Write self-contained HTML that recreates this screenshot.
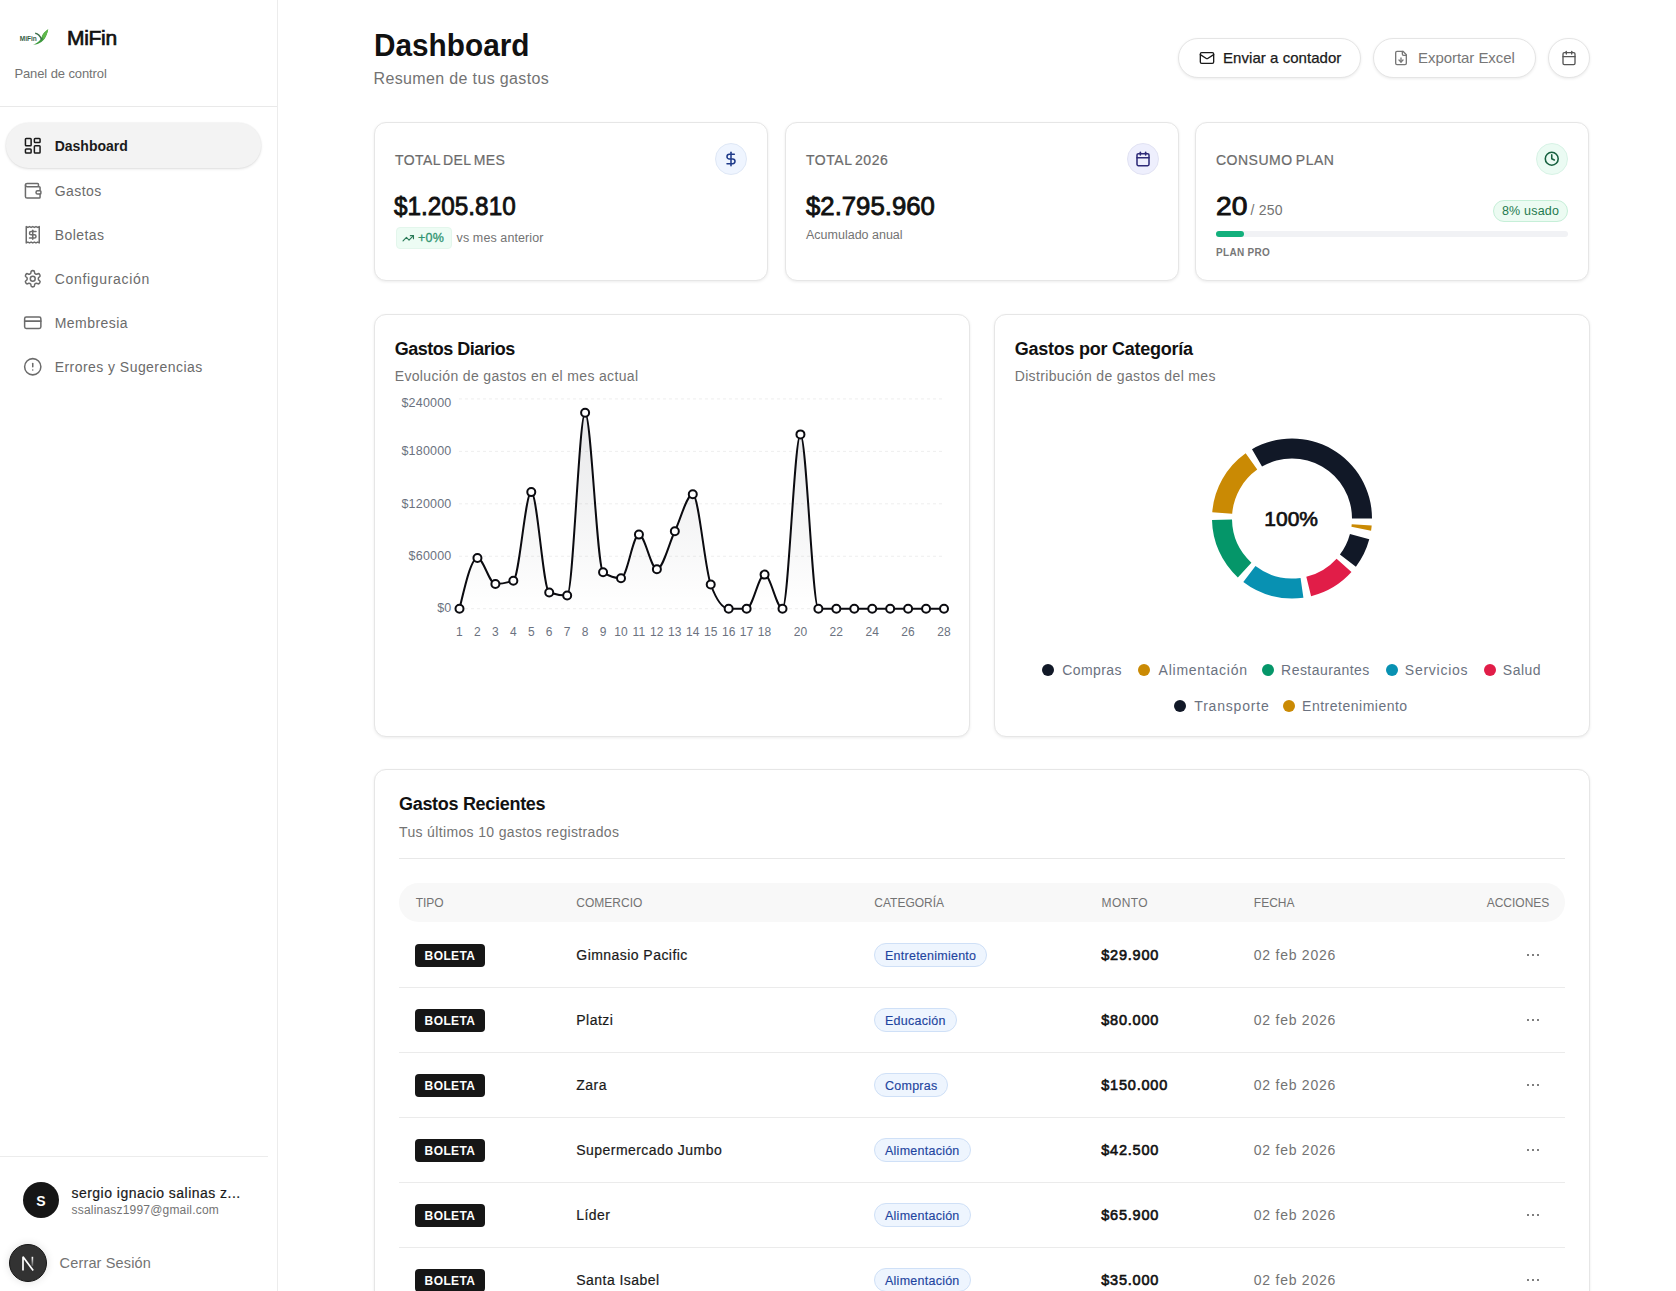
<!DOCTYPE html>
<html><head><meta charset="utf-8"><style>
html,body{margin:0;padding:0;width:1676px;height:1291px;overflow:hidden;background:#fff;position:relative;font-family:"Liberation Sans", sans-serif}
.t{position:absolute;white-space:nowrap;font-family:"Liberation Sans", sans-serif}
.pill{position:absolute;height:24px;box-sizing:border-box;border:1px solid #cfe0f7;background:#eef5fe;border-radius:12px;padding:1px 10px 0 10px;font-size:12.5px;line-height:22px;color:#1f45a0;-webkit-text-stroke:0.15px #1f45a0;letter-spacing:0.25px;white-space:nowrap;font-family:"Liberation Sans", sans-serif;font-weight:500}
</style></head><body>
<div style="position:absolute;left:277px;top:0px;width:1px;height:1291px;background:#ececec"></div>
<div style="position:absolute;left:0px;top:106px;width:277px;height:1px;background:#e9e9e9"></div>
<svg style="position:absolute;left:0px;top:0px;" width="60" height="60" viewBox="0 0 60 60" fill="none">
<path d="M33,44.6 C39,44.8 44.5,41 46.5,35 C47.5,32.5 48,30.5 48.2,29.2 C45.5,31 43,33 42,36 C41,39.5 38.5,43 33,44.6Z" fill="#3f9a3f"/>
<path d="M42,36.5 C43,33.5 45.5,31 48.2,29.2 C47.5,33 46,36.5 43.5,39.5Z" fill="#5fb84a"/>
<path d="M35.2,33.2 C38,33.6 40.2,36 41.6,39.6" stroke="#3d6e4a" stroke-width="1.4" fill="none"/>
<text x="19.8" y="40.8" font-family="Liberation Sans" font-weight="700" font-size="7.2" fill="#335c44" textLength="17" lengthAdjust="spacingAndGlyphs">MiFin</text>
</svg>
<div class="t" style="left:67.00px;top:27.22px;font-size:21px;line-height:21px;font-weight:400;color:#111;letter-spacing:-0.3px;-webkit-text-stroke:0.7px #111">MiFin</div>
<div class="t" style="left:14.40px;top:66.80px;font-size:13px;line-height:13px;font-weight:400;color:#737373;letter-spacing:-0.1px;">Panel de control</div>
<div style="position:absolute;left:6px;top:123px;width:255px;height:45px;background:#f3f3f3;border-radius:23px;box-shadow:0 1px 3px rgba(0,0,0,0.12),0 0 0 1px rgba(0,0,0,0.025)"></div>
<svg style="position:absolute;left:23px;top:136.2px" width="19.5" height="19.5" viewBox="0 0 24 24" fill="none" stroke="#1a1a1a" stroke-width="1.85" stroke-linecap="round" stroke-linejoin="round"><rect width="7" height="9" x="3" y="3" rx="1"/><rect width="7" height="5" x="14" y="3" rx="1"/><rect width="7" height="9" x="14" y="12" rx="1"/><rect width="7" height="5" x="3" y="16" rx="1"/></svg>
<div class="t" style="left:54.70px;top:139.15px;font-size:14px;line-height:14px;font-weight:700;color:#1a1a1a;letter-spacing:0px;">Dashboard</div>
<svg style="position:absolute;left:23px;top:181.2px" width="19.5" height="19.5" viewBox="0 0 24 24" fill="none" stroke="#6b6b6b" stroke-width="1.85" stroke-linecap="round" stroke-linejoin="round"><path d="M19 7V4a1 1 0 0 0-1-1H5a2 2 0 0 0 0 4h15a1 1 0 0 1 1 1v4h-3a2 2 0 0 0 0 4h3a1 1 0 0 0 1-1v-2a1 1 0 0 0-1-1"/><path d="M3 5v14a2 2 0 0 0 2 2h15a1 1 0 0 0 1-1v-4"/></svg>
<div class="t" style="left:54.70px;top:184.15px;font-size:14px;line-height:14px;font-weight:400;color:#6b6b6b;letter-spacing:0.45px;">Gastos</div>
<svg style="position:absolute;left:23px;top:225.2px" width="19.5" height="19.5" viewBox="0 0 24 24" fill="none" stroke="#6b6b6b" stroke-width="1.85" stroke-linecap="round" stroke-linejoin="round"><path d="M4 2v20l2-1 2 1 2-1 2 1 2-1 2 1 2-1 2 1V2l-2 1-2-1-2 1-2-1-2 1-2-1-2 1Z"/><path d="M16 8h-6a2 2 0 1 0 0 4h4a2 2 0 1 1 0 4H8"/><path d="M12 17.5v-11"/></svg>
<div class="t" style="left:54.70px;top:228.15px;font-size:14px;line-height:14px;font-weight:400;color:#6b6b6b;letter-spacing:0.45px;">Boletas</div>
<svg style="position:absolute;left:23px;top:269.2px" width="19.5" height="19.5" viewBox="0 0 24 24" fill="none" stroke="#6b6b6b" stroke-width="1.85" stroke-linecap="round" stroke-linejoin="round"><path d="M12.22 2h-.44a2 2 0 0 0-2 2v.18a2 2 0 0 1-1 1.73l-.43.25a2 2 0 0 1-2 0l-.15-.08a2 2 0 0 0-2.73.73l-.22.38a2 2 0 0 0 .73 2.73l.15.1a2 2 0 0 1 1 1.72v.51a2 2 0 0 1-1 1.74l-.15.09a2 2 0 0 0-.73 2.73l.22.38a2 2 0 0 0 2.730.73l.15-.08a2 2 0 0 1 2 0l.43.25a2 2 0 0 1 1 1.73V20a2 2 0 0 0 2 2h.44a2 2 0 0 0 2-2v-.18a2 2 0 0 1 1-1.73l.43-.25a2 2 0 0 1 2 0l.15.08a2 2 0 0 0 2.73-.73l.22-.39a2 2 0 0 0-.73-2.73l-.15-.08a2 2 0 0 1-1-1.74v-.5a2 2 0 0 1 1-1.74l.15-.09a2 2 0 0 0 .73-2.73l-.22-.38a2 2 0 0 0-2.73-.73l-.15.08a2 2 0 0 1-2 0l-.43-.25a2 2 0 0 1-1-1.73V4a2 2 0 0 0-2-2z"/><circle cx="12" cy="12" r="3"/></svg>
<div class="t" style="left:54.70px;top:272.15px;font-size:14px;line-height:14px;font-weight:400;color:#6b6b6b;letter-spacing:0.68px;">Configuración</div>
<svg style="position:absolute;left:23px;top:313.2px" width="19.5" height="19.5" viewBox="0 0 24 24" fill="none" stroke="#6b6b6b" stroke-width="1.85" stroke-linecap="round" stroke-linejoin="round"><rect width="20" height="14" x="2" y="5" rx="2"/><line x1="2" x2="22" y1="10" y2="10"/></svg>
<div class="t" style="left:54.70px;top:316.15px;font-size:14px;line-height:14px;font-weight:400;color:#6b6b6b;letter-spacing:0.45px;">Membresia</div>
<svg style="position:absolute;left:23px;top:357.2px" width="19.5" height="19.5" viewBox="0 0 24 24" fill="none" stroke="#6b6b6b" stroke-width="1.85" stroke-linecap="round" stroke-linejoin="round"><circle cx="12" cy="12" r="10"/><line x1="12" x2="12" y1="8" y2="12"/><line x1="12" x2="12.01" y1="16" y2="16"/></svg>
<div class="t" style="left:54.70px;top:360.15px;font-size:14px;line-height:14px;font-weight:400;color:#6b6b6b;letter-spacing:0.45px;">Errores y Sugerencias</div>
<div style="position:absolute;left:0px;top:1156px;width:268px;height:1px;background:#ececec"></div>
<div style="position:absolute;left:23px;top:1182px;width:36px;height:36px;background:#161616;border-radius:50%"></div>
<div class="t" style="left:41.00px;transform:translateX(-50%);top:1194.15px;font-size:14px;line-height:14px;font-weight:700;color:#fff;letter-spacing:0px;">S</div>
<div class="t" style="left:71.50px;top:1185.65px;font-size:14px;line-height:14px;font-weight:400;color:#1a1a1a;letter-spacing:0.47px;-webkit-text-stroke:0.2px #1a1a1a">sergio ignacio salinas z...</div>
<div class="t" style="left:71.50px;top:1204.34px;font-size:12px;line-height:12px;font-weight:400;color:#737373;letter-spacing:0.2px;">ssalinasz1997@gmail.com</div>
<div style="position:absolute;left:9px;top:1244px;width:38px;height:38px;background:#323232;border:1.5px solid #161616;box-sizing:border-box;border-radius:50%;box-shadow:0 0 8px rgba(0,0,0,0.12)"></div>
<svg style="position:absolute;left:0px;top:1230px;" width="60" height="60" viewBox="0 0 60 60" fill="none"><defs><linearGradient id="ng" gradientUnits="userSpaceOnUse" x1="0" y1="26.8" x2="0" y2="38"><stop offset="0" stop-color="#fff"/><stop offset="1" stop-color="#fff" stop-opacity="0"/></linearGradient></defs><path d="M23,40.5 V26.8 L33.2,40.6" stroke="#fff" stroke-width="1.7" fill="none" stroke-linejoin="bevel"/><path d="M32.4,26.8 V36" stroke="url(#ng)" stroke-width="1.6"/></svg>
<div class="t" style="left:59.60px;top:1256.33px;font-size:14.5px;line-height:14.5px;font-weight:400;color:#737373;letter-spacing:0.15px;">Cerrar Sesión</div>
<div class="t" style="left:373.50px;transform:scaleX(0.93);transform-origin:0 0;top:28.61px;font-size:32px;line-height:32px;font-weight:700;color:#111;letter-spacing:0px;">Dashboard</div>
<div class="t" style="left:373.60px;top:70.96px;font-size:16px;line-height:16px;font-weight:400;color:#737373;letter-spacing:0.35px;">Resumen de tus gastos</div>
<div style="position:absolute;left:1178px;top:38px;width:183px;height:40px;background:#fff;border:1px solid #e5e5e5;border-radius:20px;box-shadow:0 1px 3px rgba(0,0,0,0.08);box-sizing:border-box"></div>
<svg style="position:absolute;left:1199px;top:50px" width="16" height="16" viewBox="0 0 24 24" fill="none" stroke="#1a1a1a" stroke-width="2" stroke-linecap="round" stroke-linejoin="round"><rect width="20" height="16" x="2" y="4" rx="2"/><path d="m22 7-8.97 5.7a1.94 1.94 0 0 1-2.06 0L2 7"/></svg>
<div class="t" style="left:1223.00px;top:50.20px;font-size:15px;line-height:15px;font-weight:400;color:#1a1a1a;letter-spacing:0.05px;-webkit-text-stroke:0.25px #1a1a1a">Enviar a contador</div>
<div style="position:absolute;left:1373px;top:38px;width:163px;height:40px;background:#fff;border:1px solid #e5e5e5;border-radius:20px;box-shadow:0 1px 3px rgba(0,0,0,0.08);box-sizing:border-box"></div>
<svg style="position:absolute;left:1393px;top:50px" width="16" height="16" viewBox="0 0 24 24" fill="none" stroke="#777" stroke-width="2" stroke-linecap="round" stroke-linejoin="round"><path d="M15 2H6a2 2 0 0 0-2 2v16a2 2 0 0 0 2 2h12a2 2 0 0 0 2-2V7Z"/><path d="M14 2v4a2 2 0 0 0 2 2h4"/><path d="M12 18v-6"/><path d="m9 15 3 3 3-3"/></svg>
<div class="t" style="left:1418.00px;top:50.20px;font-size:15px;line-height:15px;font-weight:400;color:#777;letter-spacing:-0.05px;">Exportar Excel</div>
<div style="position:absolute;left:1548px;top:38px;width:42px;height:40px;background:#fff;border:1px solid #e5e5e5;border-radius:20px;box-shadow:0 1px 3px rgba(0,0,0,0.08);box-sizing:border-box"></div>
<svg style="position:absolute;left:1561px;top:50px" width="16" height="16" viewBox="0 0 24 24" fill="none" stroke="#555" stroke-width="2" stroke-linecap="round" stroke-linejoin="round"><rect width="18" height="18" x="3" y="4" rx="2" ry="2"/><line x1="16" x2="16" y1="2" y2="6"/><line x1="8" x2="8" y1="2" y2="6"/><line x1="3" x2="21" y1="10" y2="10"/></svg>
<div style="position:absolute;left:374px;top:122px;width:394px;height:159px;background:#fff;border:1px solid #e6e6e6;border-radius:12px;box-shadow:0 1px 3px rgba(0,0,0,0.08);box-sizing:border-box"></div>
<div style="position:absolute;left:785px;top:122px;width:394px;height:159px;background:#fff;border:1px solid #e6e6e6;border-radius:12px;box-shadow:0 1px 3px rgba(0,0,0,0.08);box-sizing:border-box"></div>
<div style="position:absolute;left:1195px;top:122px;width:394px;height:159px;background:#fff;border:1px solid #e6e6e6;border-radius:12px;box-shadow:0 1px 3px rgba(0,0,0,0.08);box-sizing:border-box"></div>
<div class="t" style="left:395.00px;top:153.45px;font-size:14px;line-height:14px;font-weight:400;color:#6b6b6b;letter-spacing:0.4px;word-spacing:-1.5px;-webkit-text-stroke:0.2px #6b6b6b">TOTAL DEL MES</div>
<div style="position:absolute;left:715px;top:143.4px;width:32px;height:32px;background:#eff5ff;border:1px solid #dfe8f6;box-sizing:border-box;border-radius:50%"></div>
<svg style="position:absolute;left:723px;top:151.4px" width="16" height="16" viewBox="0 0 24 24" fill="none" stroke="#1e3a8a" stroke-width="2.3" stroke-linecap="round" stroke-linejoin="round"><line x1="12" x2="12" y1="2" y2="22"/><path d="M17 5H9.5a3.5 3.5 0 0 0 0 7h5a3.5 3.5 0 0 1 0 7H6"/></svg>
<div class="t" style="left:394.40px;transform:scaleX(0.935);transform-origin:0 0;top:193.29px;font-size:26px;line-height:26px;font-weight:400;color:#111;letter-spacing:0px;-webkit-text-stroke:0.85px #111">$1.205.810</div>
<div style="position:absolute;left:395.5px;top:227px;width:56px;height:21.5px;background:#edfcf4;border:1px solid #e3f6ec;box-sizing:border-box;border-radius:4px"></div>
<svg style="position:absolute;left:402px;top:231.5px" width="12.5" height="12.5" viewBox="0 0 24 24" fill="none" stroke="#2a7a58" stroke-width="2.2" stroke-linecap="round" stroke-linejoin="round"><polyline points="22 7 13.5 15.5 8.5 10.5 2 17"/><polyline points="16 7 22 7 22 13"/></svg>
<div class="t" style="left:418.00px;top:231.92px;font-size:12.5px;line-height:12.5px;font-weight:400;color:#2f9470;letter-spacing:0.3px;-webkit-text-stroke:0.3px #2f9470">+0%</div>
<div class="t" style="left:456.60px;top:231.92px;font-size:12.5px;line-height:12.5px;font-weight:400;color:#737373;letter-spacing:0.1px;">vs mes anterior</div>
<div class="t" style="left:806.00px;top:153.45px;font-size:14px;line-height:14px;font-weight:400;color:#6b6b6b;letter-spacing:0.55px;word-spacing:-1.5px;-webkit-text-stroke:0.2px #6b6b6b">TOTAL 2026</div>
<div style="position:absolute;left:1127px;top:143.3px;width:32px;height:32px;background:#eeeffd;border:1px solid #e2e3f3;box-sizing:border-box;border-radius:50%"></div>
<svg style="position:absolute;left:1135px;top:151.3px" width="16" height="16" viewBox="0 0 24 24" fill="none" stroke="#2e2a78" stroke-width="2.3" stroke-linecap="round" stroke-linejoin="round"><rect width="18" height="18" x="3" y="4" rx="2" ry="2"/><line x1="16" x2="16" y1="2" y2="6"/><line x1="8" x2="8" y1="2" y2="6"/><line x1="3" x2="21" y1="10" y2="10"/></svg>
<div class="t" style="left:805.50px;transform:scaleX(0.99);transform-origin:0 0;top:192.99px;font-size:26px;line-height:26px;font-weight:400;color:#111;letter-spacing:0px;-webkit-text-stroke:0.85px #111">$2.795.960</div>
<div class="t" style="left:806.00px;top:228.62px;font-size:12.5px;line-height:12.5px;font-weight:400;color:#737373;letter-spacing:0px;">Acumulado anual</div>
<div class="t" style="left:1216.00px;top:153.45px;font-size:14px;line-height:14px;font-weight:400;color:#6b6b6b;letter-spacing:0.5px;word-spacing:-1.2px;-webkit-text-stroke:0.2px #6b6b6b">CONSUMO PLAN</div>
<div style="position:absolute;left:1536px;top:142.8px;width:32px;height:32px;background:#ebfbf3;border:1px solid #d8f3e6;box-sizing:border-box;border-radius:50%"></div>
<svg style="position:absolute;left:1544.3px;top:151.1px" width="15.5" height="15.5" viewBox="0 0 24 24" fill="none" stroke="#17603f" stroke-width="2.4" stroke-linecap="round" stroke-linejoin="round"><circle cx="12" cy="12" r="10"/><polyline points="12 6 12 12 16 14"/></svg>
<div class="t" style="left:1215.50px;transform:scaleX(1.13);transform-origin:0 0;top:193.84px;font-size:25px;line-height:25px;font-weight:400;color:#111;letter-spacing:0px;-webkit-text-stroke:0.85px #111">20</div>
<div class="t" style="left:1250.50px;top:203.15px;font-size:14px;line-height:14px;font-weight:400;color:#737373;letter-spacing:0.2px;">/ 250</div>
<div style="position:absolute;left:1493px;top:200px;width:75px;height:22px;background:#ecfbf2;border:1px solid #c6efd8;border-radius:11px;box-sizing:border-box"></div>
<div class="t" style="left:1530.50px;transform:translateX(-50%);top:204.92px;font-size:12.5px;line-height:12.5px;font-weight:500;color:#1f7a4f;letter-spacing:0.2px;">8% usado</div>
<div style="position:absolute;left:1216px;top:231px;width:352px;height:5.5px;background:#f1f2f5;border-radius:3px"></div>
<div style="position:absolute;left:1216px;top:231px;width:28px;height:5.5px;background:#12b07c;border-radius:3px"></div>
<div class="t" style="left:1216.00px;top:247.53px;font-size:10px;line-height:10px;font-weight:700;color:#777;letter-spacing:0.3px;">PLAN PRO</div>
<div style="position:absolute;left:374px;top:314px;width:596px;height:423px;background:#fff;border:1px solid #e6e6e6;border-radius:12px;box-shadow:0 1px 3px rgba(0,0,0,0.08);box-sizing:border-box"></div>
<div style="position:absolute;left:994px;top:314px;width:596px;height:423px;background:#fff;border:1px solid #e6e6e6;border-radius:12px;box-shadow:0 1px 3px rgba(0,0,0,0.08);box-sizing:border-box"></div>
<div class="t" style="left:394.70px;top:339.56px;font-size:18px;line-height:18px;font-weight:700;color:#111;letter-spacing:-0.5px;">Gastos Diarios</div>
<div class="t" style="left:394.70px;top:369.05px;font-size:14px;line-height:14px;font-weight:400;color:#737373;letter-spacing:0.35px;">Evolución de gastos en el mes actual</div>
<div class="t" style="left:1014.70px;top:339.56px;font-size:18px;line-height:18px;font-weight:700;color:#111;letter-spacing:-0.25px;">Gastos por Categoría</div>
<div class="t" style="left:1014.70px;top:369.05px;font-size:14px;line-height:14px;font-weight:400;color:#737373;letter-spacing:0.35px;">Distribución de gastos del mes</div>
<svg style="position:absolute;left:0px;top:0px;pointer-events:none" width="1676" height="700" viewBox="0 0 1676 700" fill="none">
<defs><linearGradient id="ag" x1="0" y1="0" x2="0" y2="1"><stop offset="0%" stop-color="#111827" stop-opacity="0.10"/><stop offset="100%" stop-color="#111827" stop-opacity="0"/></linearGradient></defs>
<line x1="459" x2="943" y1="608.70" y2="608.70" stroke="#eeeeee" stroke-dasharray="3 3" stroke-width="1"/><line x1="459" x2="943" y1="556.25" y2="556.25" stroke="#eeeeee" stroke-dasharray="3 3" stroke-width="1"/><line x1="459" x2="943" y1="503.80" y2="503.80" stroke="#eeeeee" stroke-dasharray="3 3" stroke-width="1"/><line x1="459" x2="943" y1="451.35" y2="451.35" stroke="#eeeeee" stroke-dasharray="3 3" stroke-width="1"/><line x1="459" x2="943" y1="398.90" y2="398.90" stroke="#eeeeee" stroke-dasharray="3 3" stroke-width="1"/>
<path d="M459.50,608.70C465.48,583.35 471.46,558.00 477.44,558.00C483.43,558.00 489.41,584.00 495.39,584.00C501.37,584.00 507.35,582.90 513.33,580.70C519.31,578.50 525.30,492.10 531.28,492.10C537.26,492.10 543.24,590.50 549.22,592.50C555.20,594.50 561.19,595.50 567.17,595.50C573.15,595.50 579.13,412.71 585.11,412.71C591.09,412.71 597.07,568.14 603.06,572.20C609.04,576.27 615.02,578.30 621.00,578.30C626.98,578.30 632.96,534.60 638.94,534.60C644.93,534.60 650.91,569.21 656.89,569.21C662.87,569.21 668.85,543.79 674.83,531.30C680.81,518.82 686.80,494.30 692.78,494.30C698.76,494.30 704.74,568.37 710.72,584.50C716.70,600.63 722.69,608.70 728.67,608.70C734.65,608.70 740.63,608.70 746.61,608.70C752.59,608.70 758.57,574.61 764.56,574.61C770.54,574.61 776.52,608.70 782.50,608.70C788.48,608.70 794.46,434.39 800.44,434.39C806.43,434.39 812.41,608.70 818.39,608.70C824.37,608.70 830.35,608.70 836.33,608.70C842.31,608.70 848.30,608.70 854.28,608.70C860.26,608.70 866.24,608.70 872.22,608.70C878.20,608.70 884.19,608.70 890.17,608.70C896.15,608.70 902.13,608.70 908.11,608.70C914.09,608.70 920.07,608.70 926.06,608.70C932.04,608.70 938.02,608.70 944.00,608.70L944.00,608.7L459.50,608.7Z" fill="url(#ag)"/>
<path d="M459.50,608.70C465.48,583.35 471.46,558.00 477.44,558.00C483.43,558.00 489.41,584.00 495.39,584.00C501.37,584.00 507.35,582.90 513.33,580.70C519.31,578.50 525.30,492.10 531.28,492.10C537.26,492.10 543.24,590.50 549.22,592.50C555.20,594.50 561.19,595.50 567.17,595.50C573.15,595.50 579.13,412.71 585.11,412.71C591.09,412.71 597.07,568.14 603.06,572.20C609.04,576.27 615.02,578.30 621.00,578.30C626.98,578.30 632.96,534.60 638.94,534.60C644.93,534.60 650.91,569.21 656.89,569.21C662.87,569.21 668.85,543.79 674.83,531.30C680.81,518.82 686.80,494.30 692.78,494.30C698.76,494.30 704.74,568.37 710.72,584.50C716.70,600.63 722.69,608.70 728.67,608.70C734.65,608.70 740.63,608.70 746.61,608.70C752.59,608.70 758.57,574.61 764.56,574.61C770.54,574.61 776.52,608.70 782.50,608.70C788.48,608.70 794.46,434.39 800.44,434.39C806.43,434.39 812.41,608.70 818.39,608.70C824.37,608.70 830.35,608.70 836.33,608.70C842.31,608.70 848.30,608.70 854.28,608.70C860.26,608.70 866.24,608.70 872.22,608.70C878.20,608.70 884.19,608.70 890.17,608.70C896.15,608.70 902.13,608.70 908.11,608.70C914.09,608.70 920.07,608.70 926.06,608.70C932.04,608.70 938.02,608.70 944.00,608.70" stroke="#0b0b10" stroke-width="2" fill="none"/>
<circle cx="459.50" cy="608.70" r="4" fill="#fff" stroke="#0b0b10" stroke-width="2"/><circle cx="477.44" cy="558.00" r="4" fill="#fff" stroke="#0b0b10" stroke-width="2"/><circle cx="495.39" cy="584.00" r="4" fill="#fff" stroke="#0b0b10" stroke-width="2"/><circle cx="513.33" cy="580.70" r="4" fill="#fff" stroke="#0b0b10" stroke-width="2"/><circle cx="531.28" cy="492.10" r="4" fill="#fff" stroke="#0b0b10" stroke-width="2"/><circle cx="549.22" cy="592.50" r="4" fill="#fff" stroke="#0b0b10" stroke-width="2"/><circle cx="567.17" cy="595.50" r="4" fill="#fff" stroke="#0b0b10" stroke-width="2"/><circle cx="585.11" cy="412.71" r="4" fill="#fff" stroke="#0b0b10" stroke-width="2"/><circle cx="603.06" cy="572.20" r="4" fill="#fff" stroke="#0b0b10" stroke-width="2"/><circle cx="621.00" cy="578.30" r="4" fill="#fff" stroke="#0b0b10" stroke-width="2"/><circle cx="638.94" cy="534.60" r="4" fill="#fff" stroke="#0b0b10" stroke-width="2"/><circle cx="656.89" cy="569.21" r="4" fill="#fff" stroke="#0b0b10" stroke-width="2"/><circle cx="674.83" cy="531.30" r="4" fill="#fff" stroke="#0b0b10" stroke-width="2"/><circle cx="692.78" cy="494.30" r="4" fill="#fff" stroke="#0b0b10" stroke-width="2"/><circle cx="710.72" cy="584.50" r="4" fill="#fff" stroke="#0b0b10" stroke-width="2"/><circle cx="728.67" cy="608.70" r="4" fill="#fff" stroke="#0b0b10" stroke-width="2"/><circle cx="746.61" cy="608.70" r="4" fill="#fff" stroke="#0b0b10" stroke-width="2"/><circle cx="764.56" cy="574.61" r="4" fill="#fff" stroke="#0b0b10" stroke-width="2"/><circle cx="782.50" cy="608.70" r="4" fill="#fff" stroke="#0b0b10" stroke-width="2"/><circle cx="800.44" cy="434.39" r="4" fill="#fff" stroke="#0b0b10" stroke-width="2"/><circle cx="818.39" cy="608.70" r="4" fill="#fff" stroke="#0b0b10" stroke-width="2"/><circle cx="836.33" cy="608.70" r="4" fill="#fff" stroke="#0b0b10" stroke-width="2"/><circle cx="854.28" cy="608.70" r="4" fill="#fff" stroke="#0b0b10" stroke-width="2"/><circle cx="872.22" cy="608.70" r="4" fill="#fff" stroke="#0b0b10" stroke-width="2"/><circle cx="890.17" cy="608.70" r="4" fill="#fff" stroke="#0b0b10" stroke-width="2"/><circle cx="908.11" cy="608.70" r="4" fill="#fff" stroke="#0b0b10" stroke-width="2"/><circle cx="926.06" cy="608.70" r="4" fill="#fff" stroke="#0b0b10" stroke-width="2"/><circle cx="944.00" cy="608.70" r="4" fill="#fff" stroke="#0b0b10" stroke-width="2"/></svg>
<div class="t" style="right:1224.50px;top:602.42px;font-size:12.5px;line-height:12.5px;font-weight:400;color:#6b7280;letter-spacing:0.2px;">$0</div>
<div class="t" style="right:1224.50px;top:549.97px;font-size:12.5px;line-height:12.5px;font-weight:400;color:#6b7280;letter-spacing:0.2px;">$60000</div>
<div class="t" style="right:1224.50px;top:497.52px;font-size:12.5px;line-height:12.5px;font-weight:400;color:#6b7280;letter-spacing:0.2px;">$120000</div>
<div class="t" style="right:1224.50px;top:445.07px;font-size:12.5px;line-height:12.5px;font-weight:400;color:#6b7280;letter-spacing:0.2px;">$180000</div>
<div class="t" style="right:1224.50px;top:396.62px;font-size:12.5px;line-height:12.5px;font-weight:400;color:#6b7280;letter-spacing:0.2px;">$240000</div>
<div class="t" style="left:459.50px;transform:translateX(-50%);top:625.84px;font-size:12px;line-height:12px;font-weight:400;color:#6b7280;letter-spacing:0.1px;">1</div>
<div class="t" style="left:477.44px;transform:translateX(-50%);top:625.84px;font-size:12px;line-height:12px;font-weight:400;color:#6b7280;letter-spacing:0.1px;">2</div>
<div class="t" style="left:495.39px;transform:translateX(-50%);top:625.84px;font-size:12px;line-height:12px;font-weight:400;color:#6b7280;letter-spacing:0.1px;">3</div>
<div class="t" style="left:513.33px;transform:translateX(-50%);top:625.84px;font-size:12px;line-height:12px;font-weight:400;color:#6b7280;letter-spacing:0.1px;">4</div>
<div class="t" style="left:531.28px;transform:translateX(-50%);top:625.84px;font-size:12px;line-height:12px;font-weight:400;color:#6b7280;letter-spacing:0.1px;">5</div>
<div class="t" style="left:549.22px;transform:translateX(-50%);top:625.84px;font-size:12px;line-height:12px;font-weight:400;color:#6b7280;letter-spacing:0.1px;">6</div>
<div class="t" style="left:567.17px;transform:translateX(-50%);top:625.84px;font-size:12px;line-height:12px;font-weight:400;color:#6b7280;letter-spacing:0.1px;">7</div>
<div class="t" style="left:585.11px;transform:translateX(-50%);top:625.84px;font-size:12px;line-height:12px;font-weight:400;color:#6b7280;letter-spacing:0.1px;">8</div>
<div class="t" style="left:603.06px;transform:translateX(-50%);top:625.84px;font-size:12px;line-height:12px;font-weight:400;color:#6b7280;letter-spacing:0.1px;">9</div>
<div class="t" style="left:621.00px;transform:translateX(-50%);top:625.84px;font-size:12px;line-height:12px;font-weight:400;color:#6b7280;letter-spacing:0.1px;">10</div>
<div class="t" style="left:638.94px;transform:translateX(-50%);top:625.84px;font-size:12px;line-height:12px;font-weight:400;color:#6b7280;letter-spacing:0.1px;">11</div>
<div class="t" style="left:656.89px;transform:translateX(-50%);top:625.84px;font-size:12px;line-height:12px;font-weight:400;color:#6b7280;letter-spacing:0.1px;">12</div>
<div class="t" style="left:674.83px;transform:translateX(-50%);top:625.84px;font-size:12px;line-height:12px;font-weight:400;color:#6b7280;letter-spacing:0.1px;">13</div>
<div class="t" style="left:692.78px;transform:translateX(-50%);top:625.84px;font-size:12px;line-height:12px;font-weight:400;color:#6b7280;letter-spacing:0.1px;">14</div>
<div class="t" style="left:710.72px;transform:translateX(-50%);top:625.84px;font-size:12px;line-height:12px;font-weight:400;color:#6b7280;letter-spacing:0.1px;">15</div>
<div class="t" style="left:728.67px;transform:translateX(-50%);top:625.84px;font-size:12px;line-height:12px;font-weight:400;color:#6b7280;letter-spacing:0.1px;">16</div>
<div class="t" style="left:746.61px;transform:translateX(-50%);top:625.84px;font-size:12px;line-height:12px;font-weight:400;color:#6b7280;letter-spacing:0.1px;">17</div>
<div class="t" style="left:764.56px;transform:translateX(-50%);top:625.84px;font-size:12px;line-height:12px;font-weight:400;color:#6b7280;letter-spacing:0.1px;">18</div>
<div class="t" style="left:800.44px;transform:translateX(-50%);top:625.84px;font-size:12px;line-height:12px;font-weight:400;color:#6b7280;letter-spacing:0.1px;">20</div>
<div class="t" style="left:836.33px;transform:translateX(-50%);top:625.84px;font-size:12px;line-height:12px;font-weight:400;color:#6b7280;letter-spacing:0.1px;">22</div>
<div class="t" style="left:872.22px;transform:translateX(-50%);top:625.84px;font-size:12px;line-height:12px;font-weight:400;color:#6b7280;letter-spacing:0.1px;">24</div>
<div class="t" style="left:908.11px;transform:translateX(-50%);top:625.84px;font-size:12px;line-height:12px;font-weight:400;color:#6b7280;letter-spacing:0.1px;">26</div>
<div class="t" style="left:944.00px;transform:translateX(-50%);top:625.84px;font-size:12px;line-height:12px;font-weight:400;color:#6b7280;letter-spacing:0.1px;">28</div>
<svg style="position:absolute;left:0px;top:0px;pointer-events:none" width="1676" height="700" viewBox="0 0 1676 700" fill="none"><path d="M1372.00,518.50A80,80 0 0 0 1252.00,449.22L1262.00,466.54A60,60 0 0 1 1352.00,518.50Z" fill="#111827"/><path d="M1245.66,453.29A80,80 0 0 0 1212.25,512.22L1232.18,513.79A60,60 0 0 1 1257.24,469.59Z" fill="#ca8a04"/><path d="M1212.01,519.90A80,80 0 0 0 1237.85,577.39L1251.39,562.67A60,60 0 0 1 1232.01,519.55Z" fill="#059669"/><path d="M1243.30,581.97A80,80 0 0 0 1303.41,597.68L1300.56,577.89A60,60 0 0 1 1255.47,566.10Z" fill="#0891b2"/><path d="M1311.08,596.19A80,80 0 0 0 1351.45,572.03L1336.59,558.65A60,60 0 0 1 1306.31,576.77Z" fill="#e11d48"/><path d="M1355.89,566.65A80,80 0 0 0 1369.27,539.21L1349.96,534.03A60,60 0 0 1 1339.92,554.61Z" fill="#111827"/><path d="M1371.06,530.74A80,80 0 0 0 1371.70,525.47L1351.73,524.15A60,60 0 0 1 1351.44,526.64Z" fill="#ca8a04"/></svg>
<div class="t" style="left:1291.20px;transform:translateX(-50%);top:507.92px;font-size:21px;line-height:21px;font-weight:400;color:#111;letter-spacing:0px;-webkit-text-stroke:0.7px #111">100%</div>
<div style="position:absolute;left:1042px;top:664px;width:12px;height:12px;background:#111827;border-radius:50%"></div>
<div class="t" style="left:1062.30px;top:663.15px;font-size:14px;line-height:14px;font-weight:400;color:#6b7280;letter-spacing:0.4px;">Compras</div>
<div style="position:absolute;left:1137.8px;top:664px;width:12px;height:12px;background:#ca8a04;border-radius:50%"></div>
<div class="t" style="left:1158.60px;top:663.15px;font-size:14px;line-height:14px;font-weight:400;color:#6b7280;letter-spacing:0.75px;">Alimentación</div>
<div style="position:absolute;left:1261.8px;top:664px;width:12px;height:12px;background:#059669;border-radius:50%"></div>
<div class="t" style="left:1281.10px;top:663.15px;font-size:14px;line-height:14px;font-weight:400;color:#6b7280;letter-spacing:0.45px;">Restaurantes</div>
<div style="position:absolute;left:1386px;top:664px;width:12px;height:12px;background:#0891b2;border-radius:50%"></div>
<div class="t" style="left:1404.80px;top:663.15px;font-size:14px;line-height:14px;font-weight:400;color:#6b7280;letter-spacing:0.75px;">Servicios</div>
<div style="position:absolute;left:1484px;top:664px;width:12px;height:12px;background:#e11d48;border-radius:50%"></div>
<div class="t" style="left:1502.80px;top:663.15px;font-size:14px;line-height:14px;font-weight:400;color:#6b7280;letter-spacing:0.5px;">Salud</div>
<div style="position:absolute;left:1174px;top:700px;width:12px;height:12px;background:#111827;border-radius:50%"></div>
<div class="t" style="left:1194.30px;top:699.15px;font-size:14px;line-height:14px;font-weight:400;color:#6b7280;letter-spacing:0.8px;">Transporte</div>
<div style="position:absolute;left:1283.3px;top:700px;width:12px;height:12px;background:#ca8a04;border-radius:50%"></div>
<div class="t" style="left:1302.10px;top:699.15px;font-size:14px;line-height:14px;font-weight:400;color:#6b7280;letter-spacing:0.5px;">Entretenimiento</div>
<div style="position:absolute;left:374px;top:769px;width:1216px;height:700px;background:#fff;border:1px solid #e6e6e6;border-radius:12px;box-shadow:0 1px 3px rgba(0,0,0,0.08);box-sizing:border-box"></div>
<div class="t" style="left:399.00px;top:795.46px;font-size:18px;line-height:18px;font-weight:700;color:#111;letter-spacing:-0.3px;">Gastos Recientes</div>
<div class="t" style="left:399.00px;top:824.75px;font-size:14px;line-height:14px;font-weight:400;color:#737373;letter-spacing:0.35px;">Tus últimos 10 gastos registrados</div>
<div style="position:absolute;left:399px;top:858px;width:1166px;height:1px;background:#e8e8e8"></div>
<div style="position:absolute;left:399px;top:883px;width:1166px;height:39px;background:#f8f8f8;border-radius:20px"></div>
<div class="t" style="left:415.70px;top:897.04px;font-size:12px;line-height:12px;font-weight:400;color:#737373;letter-spacing:0px;">TIPO</div>
<div class="t" style="left:576.30px;top:897.04px;font-size:12px;line-height:12px;font-weight:400;color:#737373;letter-spacing:0px;">COMERCIO</div>
<div class="t" style="left:874.30px;top:897.04px;font-size:12px;line-height:12px;font-weight:400;color:#737373;letter-spacing:0px;">CATEGORÍA</div>
<div class="t" style="left:1101.60px;top:897.04px;font-size:12px;line-height:12px;font-weight:400;color:#737373;letter-spacing:0.4px;">MONTO</div>
<div class="t" style="left:1253.80px;top:897.04px;font-size:12px;line-height:12px;font-weight:400;color:#737373;letter-spacing:0px;">FECHA</div>
<div class="t" style="right:126.70px;top:897.04px;font-size:12px;line-height:12px;font-weight:400;color:#737373;letter-spacing:0px;">ACCIONES</div>
<div style="position:absolute;left:415px;top:944px;width:70px;height:23px;background:#161616;border-radius:4px"></div>
<div class="t" style="left:450.00px;transform:translateX(-50%);top:950.34px;font-size:12px;line-height:12px;font-weight:700;color:#fff;letter-spacing:0.4px;">BOLETA</div>
<div class="t" style="left:576.30px;top:948.35px;font-size:14px;line-height:14px;font-weight:400;color:#1a1a1a;letter-spacing:0.45px;-webkit-text-stroke:0.2px #1a1a1a">Gimnasio Pacific</div>
<div class="pill" style="left:874px;top:943px">Entretenimiento</div>
<div class="t" style="left:1101.20px;top:947.63px;font-size:14.5px;line-height:14.5px;font-weight:400;color:#111;letter-spacing:0.8px;-webkit-text-stroke:0.6px #111">$29.900</div>
<div class="t" style="left:1253.80px;top:948.25px;font-size:14px;line-height:14px;font-weight:400;color:#737373;letter-spacing:0.75px;">02 feb 2026</div>
<div style="position:absolute;left:1526.8px;top:953.8px;width:2.4px;height:2.4px;background:#555;border-radius:50%"></div>
<div style="position:absolute;left:1531.8px;top:953.8px;width:2.4px;height:2.4px;background:#555;border-radius:50%"></div>
<div style="position:absolute;left:1536.8px;top:953.8px;width:2.4px;height:2.4px;background:#555;border-radius:50%"></div>
<div style="position:absolute;left:399px;top:987px;width:1166px;height:1px;background:#ebebeb"></div>
<div style="position:absolute;left:415px;top:1009px;width:70px;height:23px;background:#161616;border-radius:4px"></div>
<div class="t" style="left:450.00px;transform:translateX(-50%);top:1015.34px;font-size:12px;line-height:12px;font-weight:700;color:#fff;letter-spacing:0.4px;">BOLETA</div>
<div class="t" style="left:576.30px;top:1013.35px;font-size:14px;line-height:14px;font-weight:400;color:#1a1a1a;letter-spacing:0.45px;-webkit-text-stroke:0.2px #1a1a1a">Platzi</div>
<div class="pill" style="left:874px;top:1008px">Educación</div>
<div class="t" style="left:1101.20px;top:1012.63px;font-size:14.5px;line-height:14.5px;font-weight:400;color:#111;letter-spacing:0.8px;-webkit-text-stroke:0.6px #111">$80.000</div>
<div class="t" style="left:1253.80px;top:1013.25px;font-size:14px;line-height:14px;font-weight:400;color:#737373;letter-spacing:0.75px;">02 feb 2026</div>
<div style="position:absolute;left:1526.8px;top:1018.8px;width:2.4px;height:2.4px;background:#555;border-radius:50%"></div>
<div style="position:absolute;left:1531.8px;top:1018.8px;width:2.4px;height:2.4px;background:#555;border-radius:50%"></div>
<div style="position:absolute;left:1536.8px;top:1018.8px;width:2.4px;height:2.4px;background:#555;border-radius:50%"></div>
<div style="position:absolute;left:399px;top:1052px;width:1166px;height:1px;background:#ebebeb"></div>
<div style="position:absolute;left:415px;top:1074px;width:70px;height:23px;background:#161616;border-radius:4px"></div>
<div class="t" style="left:450.00px;transform:translateX(-50%);top:1080.34px;font-size:12px;line-height:12px;font-weight:700;color:#fff;letter-spacing:0.4px;">BOLETA</div>
<div class="t" style="left:576.30px;top:1078.35px;font-size:14px;line-height:14px;font-weight:400;color:#1a1a1a;letter-spacing:0.45px;-webkit-text-stroke:0.2px #1a1a1a">Zara</div>
<div class="pill" style="left:874px;top:1073px">Compras</div>
<div class="t" style="left:1101.20px;top:1077.63px;font-size:14.5px;line-height:14.5px;font-weight:400;color:#111;letter-spacing:0.8px;-webkit-text-stroke:0.6px #111">$150.000</div>
<div class="t" style="left:1253.80px;top:1078.25px;font-size:14px;line-height:14px;font-weight:400;color:#737373;letter-spacing:0.75px;">02 feb 2026</div>
<div style="position:absolute;left:1526.8px;top:1083.8px;width:2.4px;height:2.4px;background:#555;border-radius:50%"></div>
<div style="position:absolute;left:1531.8px;top:1083.8px;width:2.4px;height:2.4px;background:#555;border-radius:50%"></div>
<div style="position:absolute;left:1536.8px;top:1083.8px;width:2.4px;height:2.4px;background:#555;border-radius:50%"></div>
<div style="position:absolute;left:399px;top:1117px;width:1166px;height:1px;background:#ebebeb"></div>
<div style="position:absolute;left:415px;top:1139px;width:70px;height:23px;background:#161616;border-radius:4px"></div>
<div class="t" style="left:450.00px;transform:translateX(-50%);top:1145.34px;font-size:12px;line-height:12px;font-weight:700;color:#fff;letter-spacing:0.4px;">BOLETA</div>
<div class="t" style="left:576.30px;top:1143.35px;font-size:14px;line-height:14px;font-weight:400;color:#1a1a1a;letter-spacing:0.45px;-webkit-text-stroke:0.2px #1a1a1a">Supermercado Jumbo</div>
<div class="pill" style="left:874px;top:1138px">Alimentación</div>
<div class="t" style="left:1101.20px;top:1142.63px;font-size:14.5px;line-height:14.5px;font-weight:400;color:#111;letter-spacing:0.8px;-webkit-text-stroke:0.6px #111">$42.500</div>
<div class="t" style="left:1253.80px;top:1143.25px;font-size:14px;line-height:14px;font-weight:400;color:#737373;letter-spacing:0.75px;">02 feb 2026</div>
<div style="position:absolute;left:1526.8px;top:1148.8px;width:2.4px;height:2.4px;background:#555;border-radius:50%"></div>
<div style="position:absolute;left:1531.8px;top:1148.8px;width:2.4px;height:2.4px;background:#555;border-radius:50%"></div>
<div style="position:absolute;left:1536.8px;top:1148.8px;width:2.4px;height:2.4px;background:#555;border-radius:50%"></div>
<div style="position:absolute;left:399px;top:1182px;width:1166px;height:1px;background:#ebebeb"></div>
<div style="position:absolute;left:415px;top:1204px;width:70px;height:23px;background:#161616;border-radius:4px"></div>
<div class="t" style="left:450.00px;transform:translateX(-50%);top:1210.34px;font-size:12px;line-height:12px;font-weight:700;color:#fff;letter-spacing:0.4px;">BOLETA</div>
<div class="t" style="left:576.30px;top:1208.35px;font-size:14px;line-height:14px;font-weight:400;color:#1a1a1a;letter-spacing:0.45px;-webkit-text-stroke:0.2px #1a1a1a">Líder</div>
<div class="pill" style="left:874px;top:1203px">Alimentación</div>
<div class="t" style="left:1101.20px;top:1207.63px;font-size:14.5px;line-height:14.5px;font-weight:400;color:#111;letter-spacing:0.8px;-webkit-text-stroke:0.6px #111">$65.900</div>
<div class="t" style="left:1253.80px;top:1208.25px;font-size:14px;line-height:14px;font-weight:400;color:#737373;letter-spacing:0.75px;">02 feb 2026</div>
<div style="position:absolute;left:1526.8px;top:1213.8px;width:2.4px;height:2.4px;background:#555;border-radius:50%"></div>
<div style="position:absolute;left:1531.8px;top:1213.8px;width:2.4px;height:2.4px;background:#555;border-radius:50%"></div>
<div style="position:absolute;left:1536.8px;top:1213.8px;width:2.4px;height:2.4px;background:#555;border-radius:50%"></div>
<div style="position:absolute;left:399px;top:1247px;width:1166px;height:1px;background:#ebebeb"></div>
<div style="position:absolute;left:415px;top:1269px;width:70px;height:23px;background:#161616;border-radius:4px"></div>
<div class="t" style="left:450.00px;transform:translateX(-50%);top:1275.34px;font-size:12px;line-height:12px;font-weight:700;color:#fff;letter-spacing:0.4px;">BOLETA</div>
<div class="t" style="left:576.30px;top:1273.35px;font-size:14px;line-height:14px;font-weight:400;color:#1a1a1a;letter-spacing:0.45px;-webkit-text-stroke:0.2px #1a1a1a">Santa Isabel</div>
<div class="pill" style="left:874px;top:1268px">Alimentación</div>
<div class="t" style="left:1101.20px;top:1272.63px;font-size:14.5px;line-height:14.5px;font-weight:400;color:#111;letter-spacing:0.8px;-webkit-text-stroke:0.6px #111">$35.000</div>
<div class="t" style="left:1253.80px;top:1273.25px;font-size:14px;line-height:14px;font-weight:400;color:#737373;letter-spacing:0.75px;">02 feb 2026</div>
<div style="position:absolute;left:1526.8px;top:1278.8px;width:2.4px;height:2.4px;background:#555;border-radius:50%"></div>
<div style="position:absolute;left:1531.8px;top:1278.8px;width:2.4px;height:2.4px;background:#555;border-radius:50%"></div>
<div style="position:absolute;left:1536.8px;top:1278.8px;width:2.4px;height:2.4px;background:#555;border-radius:50%"></div>
</body></html>
